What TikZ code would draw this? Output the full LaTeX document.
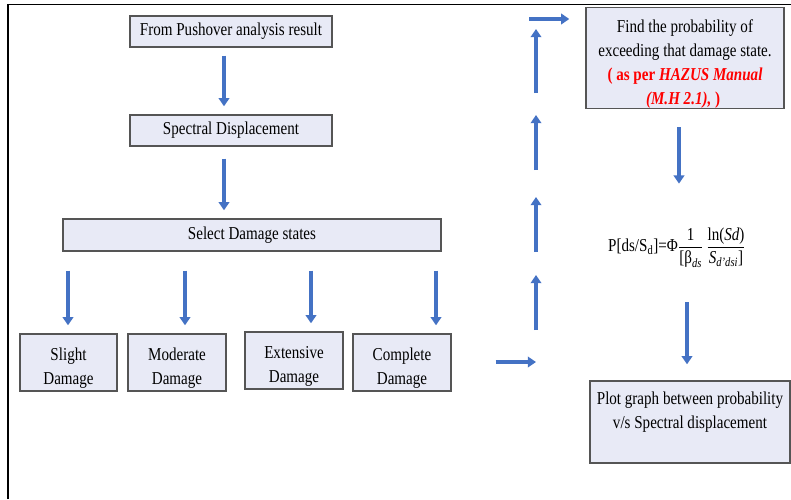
\documentclass[tikz,border=0pt]{standalone}
\usepackage{fontspec}
\usepackage{amsmath}
\setmainfont[FakeStretch=0.83]{Liberation Serif}
\usetikzlibrary{arrows.meta,positioning,calc}
\definecolor{flowblue}{RGB}{68,114,196}
\definecolor{boxfill}{RGB}{232,234,246}
\definecolor{boxline}{RGB}{85,85,85}
\def\px{0.03cm}
\newcommand{\toplift}{\rule{0pt}{21pt}}

\begin{document}
\begin{tikzpicture}[x=0.03cm,y=-0.03cm,
  stepbox/.style={rectangle,draw=boxline,line width=1.2pt,fill=boxfill,align=center,
    inner sep=0pt,font=\fontsize{15.5pt}{20.6pt}\selectfont},
  flow/.style={draw=flowblue,line width=3.4pt,-{Triangle[width=9pt,length=7pt]}}]

  \useasboundingbox (0,0) rectangle (791,499);
  % frame
  \draw[line width=1.7pt] (8,499) -- (8,4.5) -- (791,4.5);

  \node[stepbox,minimum width=202*\px,minimum height=31*\px] (push) at (231,31.5) {From Pushover analysis result};
  \node[stepbox,minimum width=202*\px,minimum height=31*\px] (spec) at (231,130.5) {Spectral Displacement};
  \node[stepbox,minimum width=378*\px,minimum height=32*\px] (select) at (252,235) {Select Damage states};

  \node[stepbox,minimum width=97*\px,minimum height=57*\px] (slight) at (68.5,362.5) {\toplift Slight\\Damage};
  \node[stepbox,minimum width=98*\px,minimum height=57*\px] (moderate) at (177,362.5) {\toplift Moderate\\Damage};
  \node[stepbox,minimum width=98*\px,minimum height=57*\px] (extensive) at (294,360.5) {\toplift Extensive\\Damage};
  \node[stepbox,minimum width=98*\px,minimum height=57*\px] (complete) at (402,362.5) {\toplift Complete\\Damage};

  \node[stepbox,minimum width=198*\px,minimum height=98*\px] (find) at (685,58) {
    \toplift Find the probability of\\
    exceeding that damage state.\\
    \color{red}\bfseries ( as per \textit{HAZUS Manual}\\
    \color{red}\bfseries\itshape (M.H 2.1),\upshape~)
  };

  \node[inner sep=0pt,font=\fontsize{15.5pt}{20.6pt}\selectfont] (formula) at (677,248) {
    P[ds/S\textsubscript{d}]=Φ$\displaystyle\frac{\text{1}}{\text{[β}_{\text{\textit{ds}}}}\,
    \frac{\text{ln(\textit{Sd})}}{\text{\textit{S}}_{\text{\textit{d'dsi}}}\text{]}}$
  };

  \node[stepbox,minimum width=200*\px,minimum height=82*\px] (plot) at (690,422) {
    Plot graph between probability\\
    v/s Spectral displacement\\ \mbox{}
  };

  \coordinate (turnlow) at (536,362);
  \coordinate (turnhigh) at (529,19);

  \draw[flow,shorten <=8*\px,shorten >=8*\px] (push.south -| 224,0) -- (spec.north -| 224,0);
  \draw[flow,shorten <=12*\px,shorten >=8*\px] (spec.south -| 224,0) -- (select.north -| 224,0);
  \foreach \n/\x in {slight/68,moderate/185,extensive/311,complete/436}
    \draw[flow,shorten <=19*\px,shorten >=8*\px] (select.south -| \x,0) -- (\n.north -| \x,0);

  % route back up to the top
  \draw[flow,shorten <=44*\px] (complete.east |- turnlow) -- (turnlow);
  \foreach \a/\b in {330/275,252/197,170/115,93/29}
    \draw[flow] (turnlow |- 0,\a) -- (turnlow |- 0,\b);
  \draw[flow,shorten >=16*\px] (turnhigh) -- (find.west |- turnhigh);

  \draw[flow,shorten <=18*\px,shorten >=44*\px] (find.south -| 679,0) -- (formula.north -| 679,0);
  \draw[flow,shorten <=34*\px,shorten >=16*\px] (formula.south -| 687,0) -- (plot.north -| 687,0);

\end{tikzpicture}
\end{document}
